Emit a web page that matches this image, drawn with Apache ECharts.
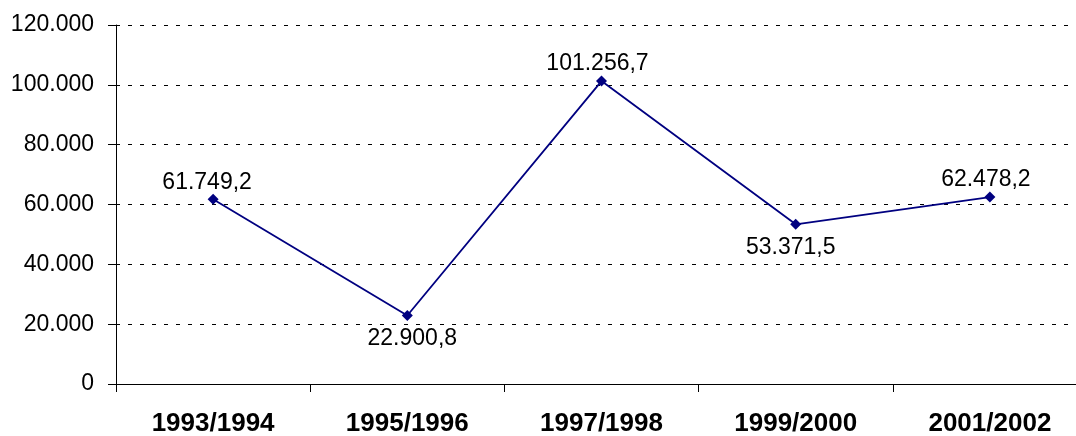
<!DOCTYPE html>
<html>
<head>
<meta charset="utf-8">
<script src="https://cdn.jsdelivr.net/npm/echarts@6/dist/echarts.min.js"></script>
<style>
  html, body { margin: 0; padding: 0; background: #fff; }
  #chart { width: 1076px; height: 436px; }
</style>
</head>
<body>
<div id="chart"></div>
<script>
const categories = ['1993/1994', '1995/1996', '1997/1998', '1999/2000', '2001/2002']
const values = [61749.2, 22900.8, 101256.7, 53371.5, 62478.2]
const yTicks = [0, 20000, 40000, 60000, 80000, 100000, 120000]

// label placement per point (above / below, small horizontal nudge)
const labelPos = [
  { position: 'top', offset: [-6, 0] },
  { position: 'bottom', offset: [5, 0] },
  { position: 'top', offset: [-4, 0] },
  { position: 'bottom', offset: [-5, 0] },
  { position: 'top', offset: [-4, 0] }
]

const fmtThousands = (v, decimals) => {
  const fixed = v.toFixed(decimals)
  const parts = fixed.split('.')
  const intPart = parts[0].replace(/\B(?=(\d{3})+(?!\d))/g, '.')
  return parts.length > 1 ? intPart + ',' + parts[1] : intPart
}

const chart = echarts.init(document.getElementById('chart'), null, { renderer: 'canvas' })

const option = {
  animation: false,
  backgroundColor: '#fff',
  textStyle: { fontFamily: 'Liberation Sans, Arial, sans-serif' },
  grid: {
    left: 116,
    right: -11,
    top: 25,
    bottom: 52,
    containLabel: false,
    outerBoundsMode: 'none'
  },
  xAxis: {
    type: 'category',
    data: categories,
    boundaryGap: true,
    axisLine: { lineStyle: { color: '#000', width: 1 } },
    axisTick: { show: true, length: 8, lineStyle: { color: '#000' } },
    axisLabel: {
      color: '#000',
      fontSize: 26,
      fontWeight: 'bold',
      margin: 27,
      interval: 0
    },
    splitLine: { show: false }
  },
  yAxis: {
    type: 'value',
    min: yTicks[0],
    max: yTicks[yTicks.length - 1],
    interval: yTicks[1] - yTicks[0],
    axisLine: { show: true, lineStyle: { color: '#000', width: 1 } },
    axisTick: { show: true, length: 8, lineStyle: { color: '#000' } },
    axisLabel: {
      color: '#000',
      fontSize: 23,
      margin: 22,
      formatter: v => fmtThousands(v, 0)
    },
    splitLine: {
      show: true,
      lineStyle: { color: '#000', width: 1, type: [4, 8] }
    }
  },
  series: [{
    type: 'line',
    data: values.map((v, i) => ({
      value: v,
      label: {
        position: labelPos[i].position,
        offset: labelPos[i].offset,
        distance: labelPos[i].position === 'top' ? 0 : 6
      }
    })),
    symbol: 'diamond',
    symbolSize: 11,
    lineStyle: { color: '#000080', width: 1.8 },
    itemStyle: { color: '#000080' },
    label: {
      show: true,
      color: '#000',
      fontSize: 23,
      formatter: p => fmtThousands(p.value, 1)
    }
  }]
}

chart.setOption(option)
</script>
</body>
</html>
